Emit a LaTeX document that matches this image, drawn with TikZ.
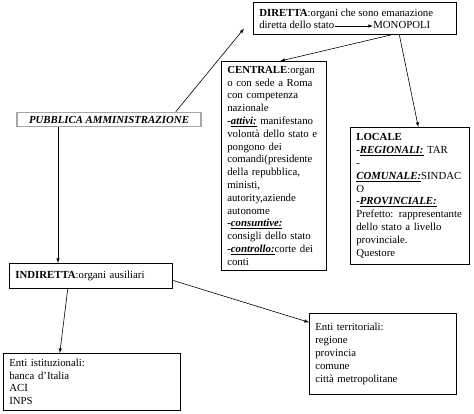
\documentclass[tikz,border=0pt]{standalone}
\usepackage{fontspec}
\setmainfont{Liberation Serif}
\newcommand{\voce}[1]{\textbf{\textit{\underline{#1}}}}
\begin{document}
\begin{tikzpicture}[x=1pt,y=-1pt,>=latex,line width=0.6pt,
  font=\fontsize{10.8}{12.8}\selectfont,
  box/.style={rectangle,draw=black,anchor=north west,align=left,inner xsep=6pt,inner ysep=4pt},
  txt/.style={inner sep=0pt,anchor=base west}]
\useasboundingbox (0,0) rectangle (474,413);

\node[rectangle,draw=gray!70,line width=1.5pt,minimum width=184pt,minimum height=14pt,inner sep=1pt] (pa) at (109,119.5) {\textbf{\textit{PUBBLICA AMMINISTRAZIONE}}};

\node[box,minimum width=203pt,minimum height=32pt] (direct) at (253,2) {};
\node[txt] (directhead) at (259,16.5) {\textbf{DIRETTA}:organi che sono emanazione};
\node[txt] (stato) at (259,28) {diretta dello stato};
\node[txt] (monopoli) at (373,28) {MONOPOLI};
\draw[->] ([yshift=2pt]stato.base east) -- ([yshift=2pt]monopoli.base west);
\draw[->] ([xshift=-26pt]pa.north east) -- ([shift={(-9pt,6pt)}]direct.south west);

\node[box,text width=93pt,minimum height=209pt] (central) at (221,61) {\textbf{CENTRALE}:organ\\
o con sede a Roma\\
con competenza\\
nazionale\\
\textbf{\textit{-}}\voce{attivi:} manifestano\\
volontà dello stato e\\
pongono dei\\
comandi(presidente\\
della repubblica,\\
ministi,\\
autority,aziende\\
autonome\\
\textbf{\textit{-}}\voce{consuntive:}\\
consigli dello stato\\
\textbf{\textit{-}}\voce{controllo:}corte dei\\
conti};
\draw[->] ([xshift=37.5pt]direct.south) -- ([xshift=6.5pt]central.north);

\node[box,text width=107pt,minimum height=137pt] (locale) at (350,127) {\textbf{LOCALE}\\
\textbf{\textit{-}}\voce{REGIONALI:} TAR\\
-\\
\voce{COMUNALE:}SINDAC\\
O\\
\textbf{\textit{-}}\voce{PROVINCIALE:}\\
Prefetto: rappresentante\\
dello stato a livello\\
provinciale.\\
Questore};
\draw[->] ([xshift=44.5pt]direct.south) -- ([xshift=8.5pt]locale.north);

\node[box,text width=151pt,minimum height=25pt] (indirect) at (9,263) {\textbf{INDIRETTA}:organi ausiliari};
\draw[->] ([xshift=-51pt]pa.south) -- ([xshift=-51pt]pa.south |- indirect.north);

\node[box,text width=165pt,minimum height=57pt] (istituz) at (3,353) {Enti istituzionali:\\
banca d’Italia\\
ACI\\
INPS};
\draw[->] ([xshift=-23pt]indirect.south) -- ([xshift=-32pt]istituz.north);

\node[box,text width=135pt,minimum height=81pt] (territ) at (309,313) {Enti territoriali:\\
regione\\
provincia\\
comune\\
città metropolitane};
\draw[->] ([yshift=-4.5pt]indirect.east) -- ([yshift=31.5pt]territ.west);
\end{tikzpicture}
\end{document}
